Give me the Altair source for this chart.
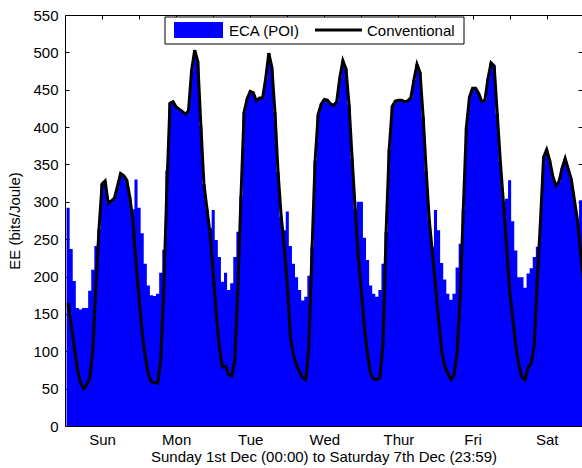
import altair as alt
import pandas as pd

# ---------------- data ----------------
hours = list(range(1, 169))

eca_poi = [
    292, 237, 194, 158, 156, 158, 158, 181, 209, 241,
    263, 324, 328, 298, 301, 305, 321, 338, 335, 329,
    306, 290, 330, 292, 258, 217, 188, 175, 174, 177,
    205, 236, 342, 432, 434, 427, 424, 421, 417, 422,
    476, 503, 488, 402, 324, 290, 265, 289, 249, 226,
    193, 205, 182, 191, 226, 260, 308, 420, 438, 448,
    446, 435, 439, 439, 465, 499, 480, 420, 340, 280,
    262, 287, 241, 217, 199, 182, 168, 173, 201, 240,
    355, 417, 431, 437, 436, 431, 429, 434, 466, 489,
    478, 430, 358, 290, 300, 300, 252, 222, 188, 177,
    173, 182, 217, 260, 370, 428, 435, 436, 436, 434,
    435, 439, 463, 484, 473, 414, 341, 275, 240, 289,
    262, 218, 196, 177, 169, 177, 212, 244, 290, 400,
    440, 452, 452, 445, 434, 436, 465, 486, 482, 418,
    354, 300, 304, 329, 274, 235, 199, 199, 185, 204,
    211, 226, 240, 274, 360, 370, 355, 334, 322, 327,
    345, 358, 344, 330, 302, 275, 302, 300,
]

conventional = [
    165, 135, 106, 78, 58, 50, 55, 64, 100, 187,
    263, 324, 328, 298, 301, 305, 321, 338, 335, 329,
    306, 275, 218, 170, 125, 92, 69, 59, 58, 57,
    88, 185, 320, 432, 434, 427, 424, 421, 417, 422,
    476, 503, 488, 402, 324, 290, 257, 204, 149, 105,
    79, 80, 69, 67, 88, 185, 308, 420, 438, 448,
    446, 435, 439, 439, 465, 499, 480, 420, 340, 282,
    240, 190, 119, 95, 82, 72, 64, 62, 108, 236,
    355, 417, 431, 437, 436, 431, 429, 434, 466, 489,
    478, 430, 358, 290, 226, 180, 131, 96, 70, 63,
    62, 65, 110, 260, 370, 428, 435, 436, 436, 434,
    435, 439, 463, 484, 473, 414, 341, 275, 232, 187,
    143, 101, 80, 70, 62, 68, 98, 172, 290, 400,
    440, 452, 452, 445, 434, 436, 465, 486, 482, 418,
    354, 299, 241, 183, 144, 107, 82, 65, 62, 78,
    84, 109, 200, 274, 360, 370, 355, 334, 322, 327,
    345, 358, 344, 330, 302, 275, 232, 190,
]

day_names = ["Sun", "Mon", "Tue", "Wed", "Thur", "Fri", "Sat"]
day_ticks = [12, 36, 60, 84, 108, 132, 156]
half_day_ticks = list(range(12, 168, 12))
y_ticks = list(range(0, 551, 50))
series_names = ["ECA (POI)", "Conventional"]
x_title = "Sunday 1st Dec (00:00) to Saturday 7th Dec (23:59)"
y_title = "EE (bits/Joule)"

df = pd.DataFrame({"hour": hours, "eca": eca_poi, "conv": conventional})
one = pd.DataFrame({"k": [0]})

# ---------------- layout ----------------
W, H = 517, 411
FONT = "Liberation Sans"
BLUE = "#0000ff"

xs = alt.Scale(domain=[0, 167.45], nice=False, zero=False)
ys = alt.Scale(domain=[0, 550], nice=False)

label_expr = "[" + ",".join("'%s'" % d for d in day_names) + "][floor(datum.value / 24)]"

# hourly bars (one hour wide, centred on each hour) drawn as a single stepped area -> no seams
bars = (
    alt.Chart(df)
    .transform_calculate(x0="datum.hour - 0.5")
    .mark_area(interpolate="step-after", color=BLUE, opacity=1, fillOpacity=1, clip=True)
    .encode(
        x=alt.X(
            "x0:Q",
            scale=xs,
            axis=alt.Axis(
                orient="bottom", values=day_ticks, labelExpr=label_expr,
                ticks=False, domain=True, domainColor="black", domainWidth=1,
                zindex=1, grid=False, title=x_title, labelPadding=6,
                titlePadding=2, labelFontSize=15, titleFontSize=15,
            ),
        ),
        y=alt.Y(
            "eca:Q",
            scale=ys,
            axis=alt.Axis(
                orient="left", values=y_ticks, offset=-4, tickSize=4,
                tickColor="black", domain=False, grid=False, title=y_title,
                labelPadding=7, titlePadding=10, labelFontSize=15, titleFontSize=15,
            ),
        ),
    )
)

line = (
    alt.Chart(df)
    .mark_line(color="black", strokeWidth=3, opacity=1, clip=True)
    .encode(
        x=alt.X(
            "hour:Q",
            scale=xs,
            axis=alt.Axis(
                orient="top", values=half_day_ticks, labels=False, offset=-4,
                tickSize=4, tickColor="black", domain=False, grid=False, title="",
            ),
        ),
        y=alt.Y(
            "conv:Q",
            scale=ys,
            axis=alt.Axis(
                orient="right", values=y_ticks, labels=False, offset=-4,
                tickSize=4, tickColor="black", domain=False, grid=False, title="",
            ),
        ),
    )
)

frame = (
    alt.Chart(df)
    .mark_point(opacity=0)
    .encode(
        x=alt.X(
            "hour:Q",
            scale=xs,
            axis=alt.Axis(orient="top", labels=False, ticks=False, domain=True,
                          domainColor="black", grid=False, title="", zindex=1),
        ),
        y=alt.Y(
            "conv:Q",
            scale=ys,
            axis=alt.Axis(orient="left", labels=False, ticks=False, domain=True,
                          domainColor="black", grid=False, title="", zindex=1),
        ),
    )
)

# legend (box, swatch, line sample, labels)
leg_box = alt.Chart(one).mark_rect(fill="white", stroke="black", strokeWidth=1, opacity=1).encode(
    x=alt.value(100), x2=alt.value(399), y=alt.value(2), y2=alt.value(29)
)
leg_swatch = alt.Chart(one).mark_rect(fill=BLUE, opacity=1).encode(
    x=alt.value(109), x2=alt.value(158), y=alt.value(7), y2=alt.value(23)
)
leg_line = alt.Chart(one).mark_rule(color="black", strokeWidth=3).encode(
    x=alt.value(250), x2=alt.value(297), y=alt.value(15)
)
leg_t1 = alt.Chart(one).mark_text(align="left", baseline="middle", fontSize=15, font=FONT, color="black").encode(
    x=alt.value(164), y=alt.value(16), text=alt.value(series_names[0])
)
leg_t2 = alt.Chart(one).mark_text(align="left", baseline="middle", fontSize=15, font=FONT, color="black").encode(
    x=alt.value(302), y=alt.value(16), text=alt.value(series_names[1])
)

chart = (
    alt.layer(bars, line, frame, leg_box, leg_swatch, leg_line, leg_t1, leg_t2)
    .resolve_axis(x="independent", y="independent")
    .properties(
        width=W,
        height=H,
        autosize=alt.AutoSizeParams(type="none"),
        padding={"left": 65, "top": 15, "right": 0, "bottom": 40},
        background="white",
    )
    .configure_view(stroke="transparent")
    .configure_axis(
        labelFont=FONT, titleFont=FONT, labelColor="black", titleColor="black",
        titleFontWeight="normal",
    )
)

chart.save("out.html", embed_options={"renderer": "svg", "actions": False})
